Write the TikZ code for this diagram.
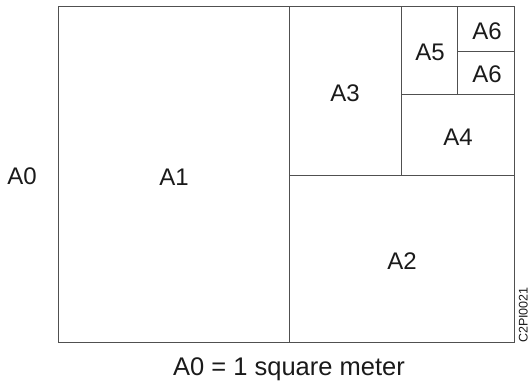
\documentclass[tikz,border=0pt]{standalone}
\usepackage{fontspec}
\setmainfont{Liberation Sans}
\usetikzlibrary{positioning}
\definecolor{sheetline}{HTML}{505050}
\definecolor{labeltext}{HTML}{1A1A1A}
\begin{document}
\begin{tikzpicture}[
    x=1pt, y=-1pt,
    sheet/.style={draw=sheetline, line width=1pt},
    size/.style={font=\fontsize{24}{27}\selectfont, text=labeltext, inner sep=0pt},
    tag/.style={font=\fontsize{12.5}{14}\selectfont, text=labeltext, inner sep=0pt, rotate=90}
]
\useasboundingbox (0,0) rectangle (530,383);
% sheet outline and the halvings
\draw[sheet] (58,6) rectangle (514,342);
\draw[sheet] (289,6) -- (289,342);
\draw[sheet] (289,175) -- (514,175);
\draw[sheet] (401,6) -- (401,175);
\draw[sheet] (401,94) -- (514,94);
\draw[sheet] (457,6) -- (457,94);
\draw[sheet] (457,51) -- (514,51);
% sizes
\node[size] (a0) at (22,176) {A0};
\node[size] (a1) at (174,177) {A1};
\node[size] (a2) at (402,261) {A2};
\node[size] (a3) at (345,93) {A3};
\node[size] (a4) at (458,137) {A4};
\node[size] (a5) at (430,52) {A5};
\node[size] (a6top) at (487,31) {A6};
\node[size] (a6bot) at (487,74) {A6};
\node[size, font=\fontsize{25.5}{28}\selectfont, anchor=base] (note) at (289,375) {A0 = 1 square meter};
\node[tag, anchor=south west] (ref) at (528,343) {C2PI0021};
\end{tikzpicture}
\end{document}
